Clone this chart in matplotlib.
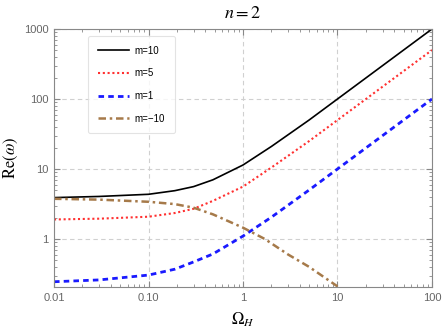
import numpy as np
import matplotlib
matplotlib.use('Agg')
import matplotlib.pyplot as plt
from matplotlib.ticker import FixedLocator, LogLocator, NullFormatter

plt.rcParams['mathtext.fontset'] = 'stix'
plt.rcParams['font.family'] = ['Liberation Sans', 'DejaVu Sans']

# data
omega = [0.01, 0.03, 0.1, 0.19, 0.3, 0.48, 1.0, 2.0, 5.0, 10.0, 20.0, 50.0, 100.0]
re_m10 = [3.9, 4.05, 4.35, 4.9, 5.6, 7.0, 11.4, 21.0, 50.0, 100.0, 200.0, 500.0, 1000.0]
re_m5 = [1.9, 1.95, 2.08, 2.35, 2.7, 3.5, 5.6, 10.5, 25.0, 50.0, 100.0, 250.0, 500.0]
re_m1 = [0.245, 0.26, 0.305, 0.37, 0.47, 0.61, 1.1, 2.05, 5.0, 10.0, 20.0, 50.0, 100.0]

omega_neg = [0.01, 0.03, 0.1, 0.19, 0.3, 0.48, 1.0, 1.7, 3.0, 5.0, 10.0]
re_mneg10 = [3.75, 3.65, 3.4, 3.15, 2.8, 2.25, 1.45, 1.0, 0.6, 0.4, 0.21]

xticks = [0.01, 0.1, 1, 10, 100]
xticklabels = ['0.01', '0.10', '1', '10', '100']
yticks = [1, 10, 100, 1000]
yticklabels = ['1', '10', '100', '1000']

fig = plt.figure(figsize=(4.43, 3.32), dpi=100)
ax = fig.add_axes([54 / 443, 1 - 287 / 332, (432 - 54) / 443, (287 - 29) / 332])

ax.plot(omega, re_m10, color='black', lw=1.2, label='m=10')
ax.plot(omega, re_m5, color='#ff3030', lw=1.5, linestyle=(0, (1, 1.3)), label='m=5')
ax.plot(omega, re_m1, color='#1a1aff', lw=2.0, linestyle=(0, (2, 1.5)), label='m=1')
ax.plot(omega_neg, re_mneg10, color='#a67a4a', lw=1.8, linestyle=(0, (3, 1.5, 1, 1.5)), label='m=\u221210')

ax.set_xscale('log')
ax.set_yscale('log')
ax.set_xlim(0.01, 100)
ax.set_ylim(0.206, 1000)

ax.xaxis.set_major_locator(FixedLocator(xticks))
ax.set_xticklabels(xticklabels)
ax.yaxis.set_major_locator(FixedLocator(yticks))
ax.set_yticklabels(yticklabels)
ax.xaxis.set_minor_locator(LogLocator(base=10, subs=np.arange(2, 10)))
ax.yaxis.set_minor_locator(LogLocator(base=10, subs=np.arange(2, 10)))
ax.xaxis.set_minor_formatter(NullFormatter())
ax.yaxis.set_minor_formatter(NullFormatter())

ax.tick_params(which='both', direction='in', top=True, right=True, colors='#888888',
               labelcolor='#666666', labelsize=8)
ax.tick_params(which='major', length=4, pad=4)
ax.tick_params(which='minor', length=2)
for s in ax.spines.values():
    s.set_color('#888888')

ax.grid(True, which='major', linestyle=(0, (4, 3)), color='#d0d0d0', lw=0.8)

ax.set_title(r'$n=2$', fontsize=13, pad=8)
ax.set_xlabel(r'$\Omega_H$', fontsize=12, labelpad=6)
ax.set_ylabel(r'$\mathrm{Re}(\omega)$', fontsize=12, labelpad=3)

leg = ax.legend(loc='upper left', bbox_to_anchor=(0.09, 0.973), fontsize=7, frameon=True,
                fancybox=True, handlelength=3.2, labelspacing=1.3, borderpad=1.0,
                handletextpad=0.6, borderaxespad=0)
leg.get_frame().set_edgecolor('#dddddd')
leg.get_frame().set_linewidth(0.8)

fig.savefig('out.png', dpi=100)
